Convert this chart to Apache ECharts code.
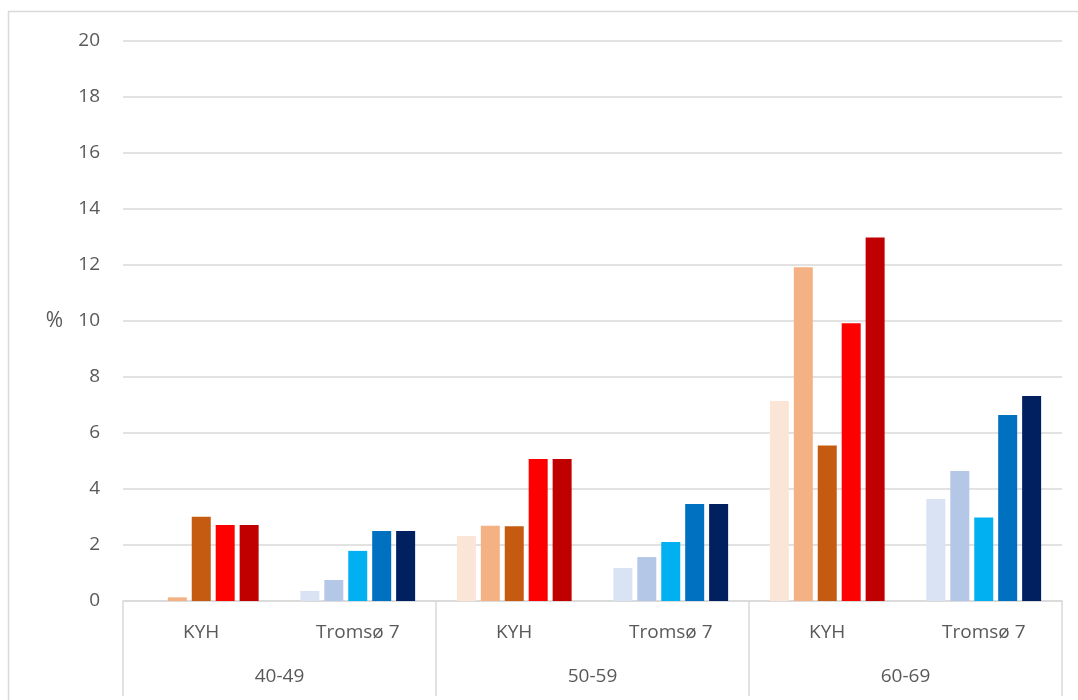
<!DOCTYPE html>
<html lang="no">
<head>
    <meta charset="UTF-8">
    <title>KYH og Tromsø 7</title>
    <style>
        html, body { margin: 0; padding: 0; background: #fff; }
        #chart { width: 1078px; height: 700px; }
    </style>
    <script src="https://cdn.jsdelivr.net/npm/echarts@6/dist/echarts.min.js"></script>
</head>
<body>
    <div id="chart"></div>
    <script>
        // kategorier
        var ageGroups = ['40-49', '50-59', '60-69'];
        var studies = ['KYH', 'Tromsø 7', 'KYH', 'Tromsø 7', 'KYH', 'Tromsø 7'];
        var yTicks = [0, 2, 4, 6, 8, 10, 12, 14, 16, 18, 20];

        // fem serier, en verdi per kategori (KYH, Tromsø 7 for hver aldersgruppe)
        var serie1 = [0, 0.36, 2.32, 1.18, 7.14, 3.64];
        var serie2 = [0.13, 0.75, 2.69, 1.57, 11.92, 4.64];
        var serie3 = [3.01, 1.79, 2.67, 2.11, 5.55, 2.98];
        var serie4 = [2.71, 2.5, 5.07, 3.46, 9.92, 6.64];
        var serie5 = [2.71, 2.5, 5.07, 3.46, 12.98, 7.32];

        // farger: KYH i rødt/oransje, Tromsø 7 i blått
        var kyhColors = ['#FBE5D6', '#F4B183', '#C55A11', '#FF0000', '#C00000'];
        var tromsoColors = ['#DAE3F3', '#B4C7E7', '#00B0F0', '#0070C0', '#002060'];

        var allSeries = [serie1, serie2, serie3, serie4, serie5];

        var series = allSeries.map(function (vals, i) {
            return {
                type: 'bar',
                xAxisIndex: 0,
                barWidth: 19,
                barGap: '26%',
                data: vals,
                itemStyle: {
                    color: function (p) {
                        return p.dataIndex % 2 === 0 ? kyhColors[i] : tromsoColors[i];
                    }
                }
            };
        });

        var txt = { color: '#595959', fontSize: 19, fontFamily: 'Open Sans' };

        var option = {
            animation: false,
            graphic: [{
                type: 'rect',
                shape: { x: 8.5, y: 11.5, width: 1100, height: 720 },
                style: { fill: 'none', stroke: '#d9d9d9', lineWidth: 1.5 },
                silent: true
            }],
            grid: { left: 123, right: 16, top: 41, bottom: 99 },
            xAxis: [
                {
                    type: 'category',
                    data: studies,
                    position: 'bottom',
                    axisLine: { lineStyle: { color: '#d9d9d9', width: 1.5 } },
                    axisTick: { show: false },
                    axisLabel: Object.assign({ margin: 22 }, txt)
                },
                {
                    type: 'category',
                    data: ageGroups,
                    position: 'bottom',
                    axisLine: { show: false },
                    axisTick: { show: true, length: 95, lineStyle: { color: '#d9d9d9', width: 1.5 } },
                    axisLabel: Object.assign({ margin: 66 }, txt)
                }
            ],
            yAxis: {
                type: 'value',
                min: yTicks[0],
                max: yTicks[yTicks.length - 1],
                interval: 2,
                name: '%',
                nameLocation: 'middle',
                nameRotate: 0,
                nameGap: 60,
                nameTextStyle: { color: '#595959', fontSize: 21, fontFamily: 'Open Sans' },
                axisLine: { show: false },
                axisTick: { show: false },
                axisLabel: Object.assign({ margin: 23 }, txt),
                splitLine: { lineStyle: { color: '#d9d9d9', width: 1.5 } }
            },
            series: series
        };

        var chart = echarts.init(document.getElementById('chart'));
        chart.setOption(option);
    </script>
</body>
</html>
